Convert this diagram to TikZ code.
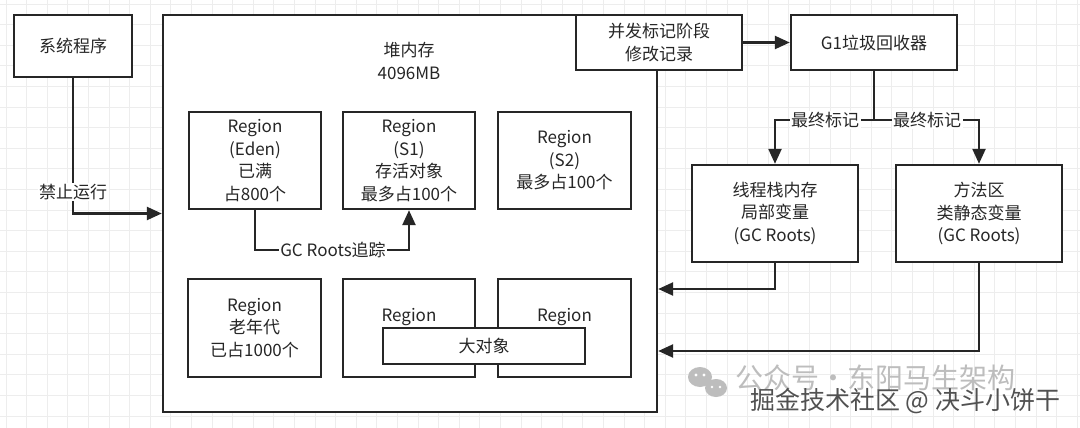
\documentclass[tikz,border=0pt]{standalone}
\usepackage{fontspec}
\setmainfont{Noto Sans CJK SC}
\usetikzlibrary{arrows.meta}
\definecolor{ink}{HTML}{262626}
\definecolor{gridc}{HTML}{EDEDED}
\definecolor{wm}{HTML}{BDBDBD}
\tikzset{
  box/.style={draw=ink, line width=2.4pt, fill=white, rectangle, inner sep=0pt, align=center,
              font=\fontsize{17}{22.5}\selectfont, text=ink},
  txt/.style={inner sep=1.5pt, align=center, font=\fontsize{17}{22.5}\selectfont, text=ink},
  lbl/.style={txt, fill=white},
  conn/.style={draw=ink, line width=2.4pt},
  arr/.style={conn, -{Triangle[length=15pt,width=13pt]}},
}
\begin{document}
\begin{tikzpicture}[x=1pt,y=-1pt]
\useasboundingbox (0,0) rectangle (1080,428);
\fill[white] (0,0) rectangle (1080,428);
\foreach \i in {0,...,52} \draw[gridc, line width=0.8pt] (\i*20.6+6,0) -- (\i*20.6+6,428);
\foreach \j in {0,...,20} \draw[gridc, line width=0.8pt] (0,\j*20.6+4) -- (1080,\j*20.6+4);

% heap
\node[box, minimum width=494pt, minimum height=397pt] (heap) at (410,213.5) {};
\node[txt] (heapt) at (409,61) {堆内存\\4096MB};

% left program
\node[box, minimum width=118pt, minimum height=62pt] (sys) at (73,46) {系统程序};

% regions row 1
\node[box, minimum width=132pt, minimum height=97pt] (eden) at (255,160.5) {Region\\(Eden)\\已满\\占800个};
\node[box, minimum width=132pt, minimum height=97pt] (s1) at (409,160.5) {Region\\(S1)\\存活对象\\最多占100个};
\node[box, minimum width=133pt, minimum height=97pt] (s2) at (564.5,160.5) {Region\\(S2)\\最多占100个};
% regions row 2
\node[box, minimum width=133pt, minimum height=98pt] (old) at (254.5,328) {Region\\老年代\\已占1000个};
\node[box, minimum width=132pt, minimum height=98pt] (r5) at (409,328) {};
\node[box, minimum width=133pt, minimum height=98pt] (r6) at (564.5,328) {};
\node[txt] (r5t) at (409,317) {Region};
\node[txt] (r6t) at (564.5,317) {Region};
\node[box, minimum width=202pt, minimum height=36pt] (big) at (484,346) {大对象};

% right part
\node[box, minimum width=166pt, minimum height=55pt] (conc) at (659,42.5) {并发标记阶段\\修改记录};
\node[box, minimum width=166pt, minimum height=55pt] (g1) at (874,42.5) {G1垃圾回收器};
\node[box, minimum width=166pt, minimum height=97pt] (thr) at (775,213.5) {线程栈内存\\局部变量\\(GC Roots)};
\node[box, minimum width=166pt, minimum height=97pt] (meth) at (979,213.5) {方法区\\类静态变量\\(GC Roots)};

% connectors
\draw[arr] (sys.south) |- (heap.west);
\node[lbl] (stop) at (73,192) {禁止运行};

\coordinate (gcy) at (0,250);
\draw[arr] (eden.south) -- (eden.south |- gcy) -- (s1.south |- gcy) -- (s1.south);
\node[lbl] (gcl) at (333,250) {GC Roots追踪};

\draw[arr] (conc.east) -- (g1.west);

\coordinate (my) at (0,120);
\draw[conn] (g1.south) -- (g1.south |- my);
\draw[arr] (g1.south |- my) -- (thr.north |- my) -- (thr.north);
\draw[arr] (g1.south |- my) -- (meth.north |- my) -- (meth.north);
\node[lbl] (m1) at (825,120) {最终标记};
\node[lbl] (m2) at (927,120) {最终标记};

\coordinate (ty) at (0,289);
\coordinate (my2) at (0,351);
\draw[arr] (thr.south) |- (heap.east |- ty);
\draw[arr] (meth.south) |- (heap.east |- my2);

% watermarks
\fill[wm] (700,377) ellipse (12pt and 10pt);
\fill[wm] (716,388) ellipse (11pt and 9pt);
\fill[white] (696,375) circle (1.6pt) (704,375) circle (1.6pt) (712,387) circle (1.4pt) (720,387) circle (1.4pt);
\node[inner sep=0pt, anchor=west, text=wm, font=\fontsize{28}{28}\selectfont] (wm1) at (735,378) {公众号・东阳马生架构};
\node[inner sep=0pt, anchor=west, text=ink!80, font=\fontsize{25}{25}\selectfont] (wm2) at (750,401) {掘金技术社区 @ 决斗小饼干};
\end{tikzpicture}
\end{document}
